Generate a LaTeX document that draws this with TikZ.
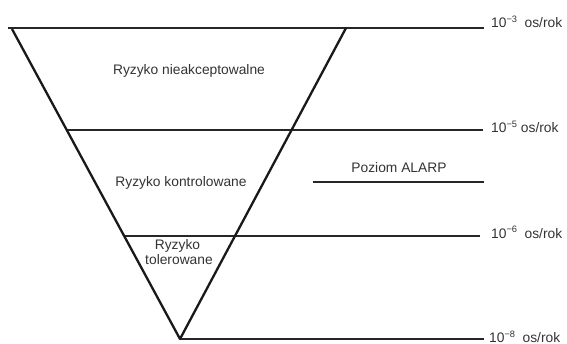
\documentclass[tikz,border=0pt]{standalone}
\usepackage{fontspec}
\setmainfont{Liberation Sans}
\usetikzlibrary{calc}
\newcommand\supx[1]{\raisebox{5.4pt}{\fontsize{9.3}{9.3}\selectfont #1}}
\begin{document}
\begin{tikzpicture}[x=1pt,y=-1pt,
  edge/.style={line width=2.3pt, line join=round, color=black!90},
  level/.style={line width=1.9pt, color=black!85},
  txt/.style={inner sep=0pt, font=\fontsize{13.8}{15}\selectfont, text=black!80}]
\useasboundingbox (0,0) rectangle (567,344);
% triangle corners
\coordinate (A) at (12,29);
\coordinate (B) at (346,28);
\coordinate (V) at (180,339);
% right end of the level lines
\coordinate (E3) at (484,28);
\coordinate (E5) at (483,0);
\coordinate (E6) at (480,0);
\coordinate (E8) at (484,0);
\coordinate (T0) at (8,28);
\coordinate (L5) at ($(A)!0.3269!(V)$);
\coordinate (L6) at ($(A)!0.6678!(V)$);
\coordinate (P0) at (313,182.3);
\coordinate (P1) at (483.5,182.3);
% level lines
\draw[level] (T0) -- (E3);
\draw[level] (L5) -- (L5 -| E5);
\draw[level] (L6) -- (L6 -| E6);
\draw[level] (V) -- (V -| E8);
\draw[level] (P0) -- (P1);
% triangle
\draw[edge] (A) -- (V) -- (B);
% texts
\node[txt, anchor=base] (n1) at (189,74.5) {Ryzyko nieakceptowalne};
\node[txt, anchor=base] (n2) at (181,186.5) {Ryzyko kontrolowane};
\node[txt, anchor=base] (alarp) at (399,172.7) {Poziom ALARP};
\node[txt, anchor=base] (n3a) at (177.5,250) {Ryzyko};
\node[txt, anchor=base] (n3b) at (179,265) {tolerowane};
\node[txt, anchor=base west] (l3) at (491,28) {10\supx{−3}\hspace{7.5pt}os/rok};
\node[txt, anchor=base west] (l5) at (491,132.7) {10\supx{−5} os/rok};
\node[txt, anchor=base west] (l6) at (491,238.3) {10\supx{−6}\hspace{7.5pt}os/rok};
\node[txt, anchor=base west] (l8) at (489,342.5) {10\supx{−8}\hspace{7.5pt}os/rok};
\end{tikzpicture}
\end{document}
